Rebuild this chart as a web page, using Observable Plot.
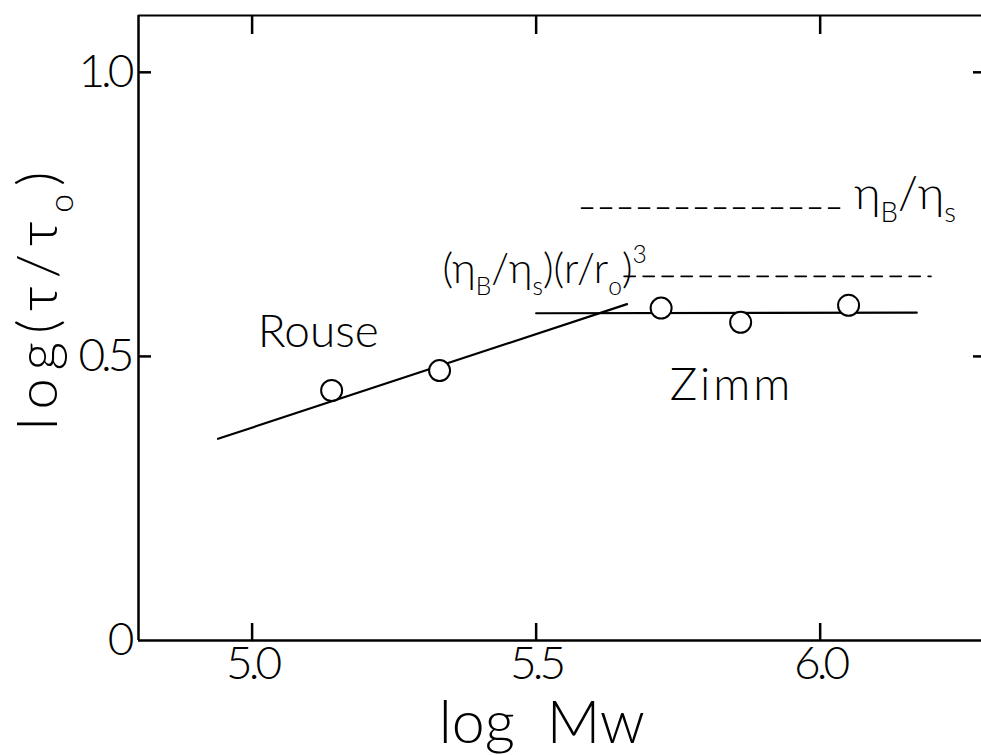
<!DOCTYPE html>
<html><head><meta charset="utf-8">
<script src="https://cdn.jsdelivr.net/npm/d3@7"></script>
<script src="https://cdn.jsdelivr.net/npm/@observablehq/plot@0.6"></script>
<style>
html,body{margin:0;padding:0;background:#fff;overflow:hidden}
</style></head><body><div id="chart"></div>
<script>
// ---- data ----
const logM   = [5.14, 5.33, 5.72, 5.86, 6.05];
const logTau = [0.44, 0.475, 0.585, 0.56, 0.59];

const rouseX = [4.94, 5.66];
const rouseY = [0.355, 0.592];
const zimmX  = [5.50, 6.17];
const zimmY  = [0.576, 0.577];

const etaX   = [5.58, 6.045];   // ηB/ηs dashed level
const etaY   = [0.761, 0.761];
const etaRX  = [5.655, 6.195];  // (ηB/ηs)(r/ro)^3 dashed level
const etaRY  = [0.641, 0.641];

const xTicks  = [5.0, 5.5, 6.0];
const xLabels = ["5.0", "5.5", "6.0"];
const yTicks  = [0, 0.5, 1.0];
const yLabels = ["0", "0.5", "1.0"];
const yInner  = [0.5, 1.0];

const noteText = ["Rouse", "Zimm", "η_B/η_s"];
const noteX    = [5.01, 5.735, 6.06];
const noteY    = [0.543, 0.45, 0.785];
const formulaText = "(η_B/η_s)(r/r_o)^3";
const formulaX = 5.335;
const formulaY = 0.652;

const xTitle = "log\u00a0\u00a0Mw";
const yTitle = "log(τ/τ_o)";

// ---- chart ----
const FONT = "Lato, 'Open Sans', 'DejaVu Sans', sans-serif";
const pts = logM.map((x, i) => ({x, y: logTau[i]}));
const seg = (xs, ys) => xs.map((x, i) => [x, ys[i]]);
const notes = noteText.map((t, i) => ({t, x: noteX[i], y: noteY[i]}));

const chart = Plot.plot({
  width: 981, height: 755,
  marginLeft: 138, marginRight: 0, marginTop: 15, marginBottom: 115,
  x: {domain: [4.8, 6.284]},
  y: {domain: [0, 1.1]},
  style: {fontFamily: FONT, background: "white", color: "black"},
  marks: [
    Plot.ruleY([0], {strokeWidth: 2.5}),
    Plot.ruleY([1.1], {strokeWidth: 2}),
    Plot.ruleX([4.8], {strokeWidth: 2.5}),
    // inward ticks
    Plot.axisX(xTicks, {anchor: "bottom", tickSize: -17, strokeWidth: 2.5, tickFormat: () => "", label: null}),
    Plot.axisX(xTicks, {anchor: "top", tickSize: -18, strokeWidth: 2.5, tickFormat: () => "", label: null}),
    Plot.axisY(yInner, {anchor: "left", tickSize: -13, strokeWidth: 2.5, tickFormat: () => "", label: null}),
    Plot.axisY(yInner, {anchor: "right", tickSize: -9, strokeWidth: 2.5, tickFormat: () => "", label: null}),
    // tick labels
    Plot.axisX(xTicks, {anchor: "bottom", tickSize: 0, tickPadding: 6, tickFormat: d => xLabels[xTicks.indexOf(d)],
      fontSize: 46, fontWeight: 300, label: null, className: "ticklab"}),
    Plot.axisY(yTicks, {anchor: "left", tickSize: 0, tickPadding: 8, tickFormat: d => yLabels[yTicks.indexOf(d)],
      fontSize: 46, fontWeight: 300, label: null, className: "ticklab"}),
    // model lines
    Plot.line(seg(rouseX, rouseY), {strokeWidth: 2.2}),
    Plot.line(seg(zimmX, zimmY), {strokeWidth: 2.2}),
    Plot.line(seg(etaX, etaY), {strokeWidth: 1.8, strokeDasharray: "11,8"}),
    Plot.line(seg(etaRX, etaRY), {strokeWidth: 1.8, strokeDasharray: "11,8"}),
    // data
    Plot.dot(pts, {x: "x", y: "y", r: 10.5, fill: "white", stroke: "black", strokeWidth: 2}),
    // annotations
    Plot.text(notes, {x: "x", y: "y", text: "t", textAnchor: "start", fontSize: 46, fontWeight: 300, className: "note"}),
    Plot.text([formulaText], {x: [formulaX], y: [formulaY], textAnchor: "start", fontSize: 41, fontWeight: 300}),
    // axis titles
    Plot.text([xTitle], {x: [5.51], frameAnchor: "bottom", lineAnchor: "middle", dy: 84, fontSize: 59, fontWeight: 300}),
    Plot.text([yTitle], {y: [0.605], frameAnchor: "left", textAnchor: "middle", lineAnchor: "middle", dx: -99, rotate: -90, fontSize: 56, fontWeight: 300, className: "ytitle"})
  ]
});
document.getElementById("chart").appendChild(chart);

// letter spacing tweaks to mimic the lettering stencil
chart.querySelectorAll(".ticklab text").forEach(el => el.setAttribute("letter-spacing", "-4"));
chart.querySelectorAll(".ytitle text").forEach(el => el.setAttribute("letter-spacing", "8"));
chart.querySelectorAll(".note text").forEach(el => { if (el.textContent === "Zimm") el.setAttribute("letter-spacing", "3"); });

// sub/superscripts as real tspans
const NS = "http://www.w3.org/2000/svg";
chart.querySelectorAll("text").forEach(el => {
  const s = el.textContent;
  if (!/[_^]/.test(s) || el.children.length) return;
  const fs = parseFloat(getComputedStyle(el).fontSize) || 44;
  el.textContent = "";
  let cur = 0, buf = "";
  const add = (txt, target, small) => {
    const t = document.createElementNS(NS, "tspan");
    t.textContent = txt;
    if (small) t.setAttribute("font-size", (fs * 0.6).toFixed(1));
    if (target !== cur) { t.setAttribute("dy", (target - cur).toFixed(1)); cur = target; }
    el.appendChild(t);
  };
  for (let i = 0; i < s.length; i++) {
    const c = s[i];
    if ((c === "_" || c === "^") && i + 1 < s.length) {
      if (buf) { add(buf, 0, false); buf = ""; }
      add(s[i + 1], c === "_" ? fs * 0.28 : -fs * 0.5, true);
      i++;
    } else buf += c;
  }
  if (buf) add(buf, 0, false);
});
</script>
</body></html>
